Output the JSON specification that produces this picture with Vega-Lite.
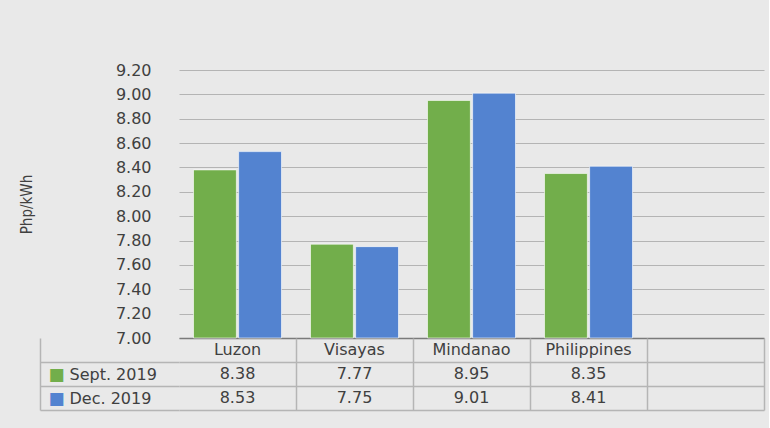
{
  "$schema": "https://vega.github.io/schema/vega-lite/v6.json",
  "background": "#e9e9e9",
  "padding": {"top": 62, "left": 19, "right": 5, "bottom": 18},
  "spacing": 0,
  "bounds": "flush",
  "config": {
    "view": {"stroke": null},
    "font": "DejaVu Sans",
    "axis": {"labelFont": "DejaVu Sans", "labelColor": "#404040", "titleColor": "#404040"}
  },
  "datasets": {
    "prices": [
      {"region": "Luzon", "series": "Sept. 2019", "value": 8.38},
      {"region": "Luzon", "series": "Dec. 2019", "value": 8.53},
      {"region": "Visayas", "series": "Sept. 2019", "value": 7.77},
      {"region": "Visayas", "series": "Dec. 2019", "value": 7.75},
      {"region": "Mindanao", "series": "Sept. 2019", "value": 8.95},
      {"region": "Mindanao", "series": "Dec. 2019", "value": 9.01},
      {"region": "Philippines", "series": "Sept. 2019", "value": 8.35},
      {"region": "Philippines", "series": "Dec. 2019", "value": 8.41}
    ]
  },
  "vconcat": [
    {
      "width": 585,
      "height": 268,
      "data": {"name": "prices"},
      "mark": {"type": "bar", "stroke": "#ffffff", "strokeWidth": 1, "strokeOpacity": 0.6},
      "encoding": {
        "x": {
          "field": "region", "type": "nominal",
          "scale": {"domain": ["Luzon", "Visayas", "Mindanao", "Philippines", " "], "paddingInner": 0.248, "paddingOuter": 0.124},
          "axis": {"labels": false, "ticks": false, "title": null, "grid": false, "domainColor": "#7a7a7a", "domainWidth": 1.5}
        },
        "xOffset": {
          "field": "series", "type": "nominal",
          "scale": {"domain": ["Sept. 2019", "Dec. 2019"], "paddingInner": 0.05}
        },
        "y": {
          "field": "value", "type": "quantitative",
          "scale": {"domain": [7, 9.2], "zero": false, "nice": false},
          "axis": {
            "values": [7, 7.2, 7.4, 7.6, 7.8, 8, 8.2, 8.4, 8.6, 8.8, 9, 9.2],
            "format": ".2f", "labelFontSize": 16, "labelPadding": 28,
            "ticks": false, "domain": false,
            "grid": true, "gridColor": "#b4b4b4", "gridWidth": 1.2,
            "title": "Php/kWh", "titleFont": "Liberation Sans Narrow, DejaVu Sans Condensed, Roboto Condensed, Roboto",
            "titleFontSize": 15, "titleFontWeight": "normal", "titlePadding": 81
          }
        },
        "y2": {"datum": 7},
        "color": {
          "field": "series", "type": "nominal",
          "scale": {"domain": ["Sept. 2019", "Dec. 2019"], "range": ["#72AE4B", "#5383D0"]},
          "legend": null
        }
      }
    },
    {
      "width": 585,
      "height": 72,
      "data": {"name": "prices"},
      "resolve": {"axis": {"y": "independent"}, "scale": {"y": "shared"}},
      "layer": [
        {
          "mark": {"type": "text", "fontSize": 16, "color": "#404040", "font": "DejaVu Sans"},
          "encoding": {
            "x": {
              "field": "region", "type": "nominal",
              "scale": {"domain": ["Luzon", "Visayas", "Mindanao", "Philippines", " "], "paddingInner": 0, "paddingOuter": 0},
              "axis": {
                "orient": "top", "grid": true, "tickBand": "extent", "labels": false, "ticks": false, "domain": false, "title": null,
                "gridColor": {"condition": {"test": "datum.index === -1", "value": "transparent"}, "value": "#b5b5b5"},
                "gridWidth": 1.5
              }
            },
            "y": {
              "field": "series", "type": "nominal",
              "scale": {"domain": ["hdr", "Sept. 2019", "Dec. 2019"], "paddingInner": 0, "paddingOuter": 0},
              "axis": {
                "orient": "left", "title": null, "domain": false,
                "grid": true, "gridColor": "#b5b5b5", "gridWidth": 1.5,
                "ticks": true, "tickSize": 139, "tickWidth": 1.5, "tickColor": "#b5b5b5",
                "tickOffset": 12, "labelOffset": -12,
                "labelExpr": "datum.value === 'Sept. 2019' || datum.value === 'Dec. 2019' ? '■' : ''",
                "labelColor": {"condition": {"test": "datum.value === 'Sept. 2019'", "value": "#72AE4B"}, "value": "#5383D0"},
                "labelAlign": "left", "labelPadding": -8, "labelFontSize": 17
              }
            },
            "text": {"field": "value", "type": "quantitative", "format": ".2f"}
          }
        },
        {
          "transform": [{"filter": "datum.series === 'Sept. 2019'"}],
          "mark": {"type": "text", "fontSize": 16, "color": "#404040", "font": "DejaVu Sans"},
          "encoding": {
            "x": {"field": "region", "type": "nominal"},
            "y": {
              "datum": "hdr", "type": "nominal",
              "axis": {
                "orient": "left", "title": null, "offset": 139,
                "domain": true, "domainColor": "#b5b5b5", "domainWidth": 1.5,
                "grid": false, "ticks": false, "tickSize": 0,
                "labelExpr": "datum.value === 'Sept. 2019' || datum.value === 'Dec. 2019' ? datum.value : ''",
                "labelAlign": "left", "labelPadding": -29, "labelFontSize": 16
              }
            },
            "text": {"field": "region", "type": "nominal"}
          }
        }
      ]
    }
  ]
}
